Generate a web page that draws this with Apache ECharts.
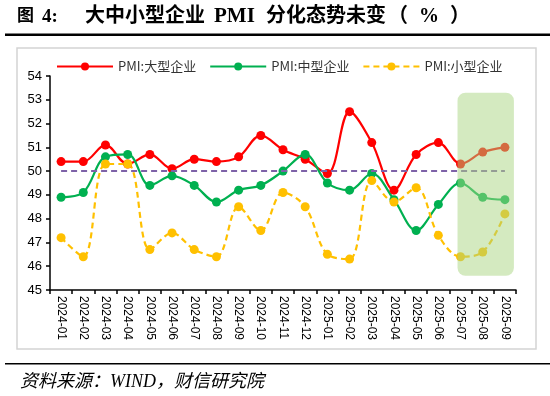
<!DOCTYPE html>
<html>
<head>
<meta charset="utf-8">
<script src="https://cdn.jsdelivr.net/npm/echarts@6/dist/echarts.min.js"></script>
<style>
  html, body { margin: 0; padding: 0; background: #fff; }
  #container { width: 550px; height: 396px; }
</style>
</head>
<body>
<div id="container"></div>
<script>
var months = ['2024-01', '2024-02', '2024-03', '2024-04', '2024-05', '2024-06', '2024-07',
    '2024-08', '2024-09', '2024-10', '2024-11', '2024-12', '2025-01', '2025-02', '2025-03',
    '2025-04', '2025-05', '2025-06', '2025-07', '2025-08', '2025-09'];
var large = [50.4, 50.4, 51.1, 50.3, 50.7, 50.1, 50.5, 50.4, 50.6, 51.5, 50.9, 50.5, 49.9,
    52.5, 51.2, 49.2, 50.7, 51.2, 50.3, 50.8, 51.0];
var medium = [48.9, 49.1, 50.6, 50.7, 49.4, 49.8, 49.4, 48.7, 49.2, 49.4, 50.0, 50.7, 49.5,
    49.2, 49.9, 48.8, 47.5, 48.6, 49.5, 48.9, 48.8];
var small = [47.2, 46.4, 50.3, 50.3, 46.7, 47.4, 46.7, 46.4, 48.5, 47.5, 49.1, 48.5, 46.5,
    46.3, 49.6, 48.7, 49.3, 47.3, 46.4, 46.6, 48.2];
var yTicks = [45, 46, 47, 48, 49, 50, 51, 52, 53, 54];

var myChart = echarts.init(document.getElementById('container'));

var labelFont = 'Liberation Sans, Arial, sans-serif';
var titleFont = 'Liberation Serif, Noto Sans CJK SC, serif';
var option = {
    animation: false,
    backgroundColor: '#fff',
    legend: {
        top: 55,
        left: 51,
        itemWidth: 56,
        itemHeight: 10,
        itemGap: 13,
        textStyle: {
            fontSize: 13,
            color: '#333',
            fontFamily: 'Noto Sans CJK SC, sans-serif'
        },
        data: ['PMI:大型企业', 'PMI:中型企业', 'PMI:小型企业']
    },
    grid: {
        left: 50,
        right: 34,
        top: 76,
        bottom: 106
    },
    xAxis: {
        type: 'category',
        data: months,
        boundaryGap: true,
        axisLine: { lineStyle: { color: '#000', width: 1.5 } },
        axisTick: { show: true, length: 4, lineStyle: { color: '#000', width: 1.5 } },
        axisLabel: {
            rotate: -90,
            interval: 0,
            color: '#000',
            fontSize: 12,
            fontFamily: labelFont,
            margin: 6
        }
    },
    yAxis: {
        type: 'value',
        min: yTicks[0],
        max: yTicks[yTicks.length - 1],
        interval: 1,
        splitLine: { show: false },
        axisLine: { show: true, lineStyle: { color: '#000', width: 1.5 } },
        axisTick: { show: true, length: 4, lineStyle: { color: '#000', width: 1.5 } },
        axisLabel: {
            color: '#000',
            fontSize: 13,
            fontFamily: labelFont,
            margin: 8
        }
    },
    series: [
        {
            name: 'PMI:大型企业',
            type: 'line',
            data: large,
            smooth: 0.35,
            symbol: 'circle',
            symbolSize: 9,
            color: '#FF0000',
            lineStyle: { width: 2.2, color: '#FF0000' },
            z: 3,
            markLine: {
                silent: true,
                symbol: 'none',
                label: { show: false },
                lineStyle: { color: '#7E62A8', type: [6, 4], width: 2 },
                data: [[{ coord: [0, 50] }, { coord: [months.length - 1, 50] }]]
            }
        },
        {
            name: 'PMI:中型企业',
            type: 'line',
            data: medium,
            smooth: 0.35,
            symbol: 'circle',
            symbolSize: 9,
            color: '#00B050',
            lineStyle: { width: 2.2, color: '#00B050' },
            z: 3
        },
        {
            name: 'PMI:小型企业',
            type: 'line',
            data: small,
            smooth: 0.35,
            symbol: 'circle',
            symbolSize: 9,
            color: '#FFC000',
            lineStyle: { width: 2.2, color: '#FFC000', type: [6, 4] },
            z: 3
        }
    ]
};
myChart.setOption(option);

function titlePart(x, text, size) {
    return {
        type: 'text',
        x: x,
        y: 17,
        style: {
            text: text,
            fontSize: size,
            fontWeight: 'bold',
            fontFamily: titleFont,
            fill: '#000',
            verticalAlign: 'middle'
        }
    };
}

// highlight box over the last three months + frames / title / source
var p0 = myChart.convertToPixel({ xAxisIndex: 0, yAxisIndex: 0 }, [18, 53.3]);
var p1 = myChart.convertToPixel({ xAxisIndex: 0, yAxisIndex: 0 }, [20, 45.6]);
myChart.setOption({
    graphic: [
        {
            type: 'rect',
            z: 100,
            silent: true,
            shape: { x: p0[0] - 3, y: p0[1], width: p1[0] + 9 - (p0[0] - 3), height: p1[1] - p0[1], r: 8 },
            style: { fill: 'rgba(169, 214, 130, 0.5)' }
        },
        {
            type: 'rect',
            z: -1,
            silent: true,
            shape: { x: 17, y: 48, width: 519, height: 301 },
            style: { fill: 'none', stroke: '#D4D4D4', lineWidth: 1.5 }
        },
        titlePart(17, '图', 17),
        titlePart(42, '4:', 19),
        titlePart(85, '大中小型企业', 20),
        titlePart(214, 'PMI', 21),
        titlePart(266, '分化态势未变', 20),
        titlePart(388, '（', 20),
        titlePart(419, '%', 20),
        titlePart(450, '）', 20),
        {
            type: 'rect',
            silent: true,
            shape: { x: 5, y: 33.5, width: 545, height: 2.5 },
            style: { fill: '#000' }
        },
        {
            type: 'rect',
            silent: true,
            shape: { x: 5, y: 363, width: 545, height: 1.5 },
            style: { fill: '#000' }
        },
        {
            type: 'text',
            left: 20,
            top: 373,
            style: {
                text: '资料来源：WIND，财信研究院',
                fontSize: 18,
                fontStyle: 'italic',
                fontFamily: 'Liberation Serif, Noto Sans CJK SC, serif',
                fill: '#000'
            }
        }
    ]
});
</script>
</body>
</html>
